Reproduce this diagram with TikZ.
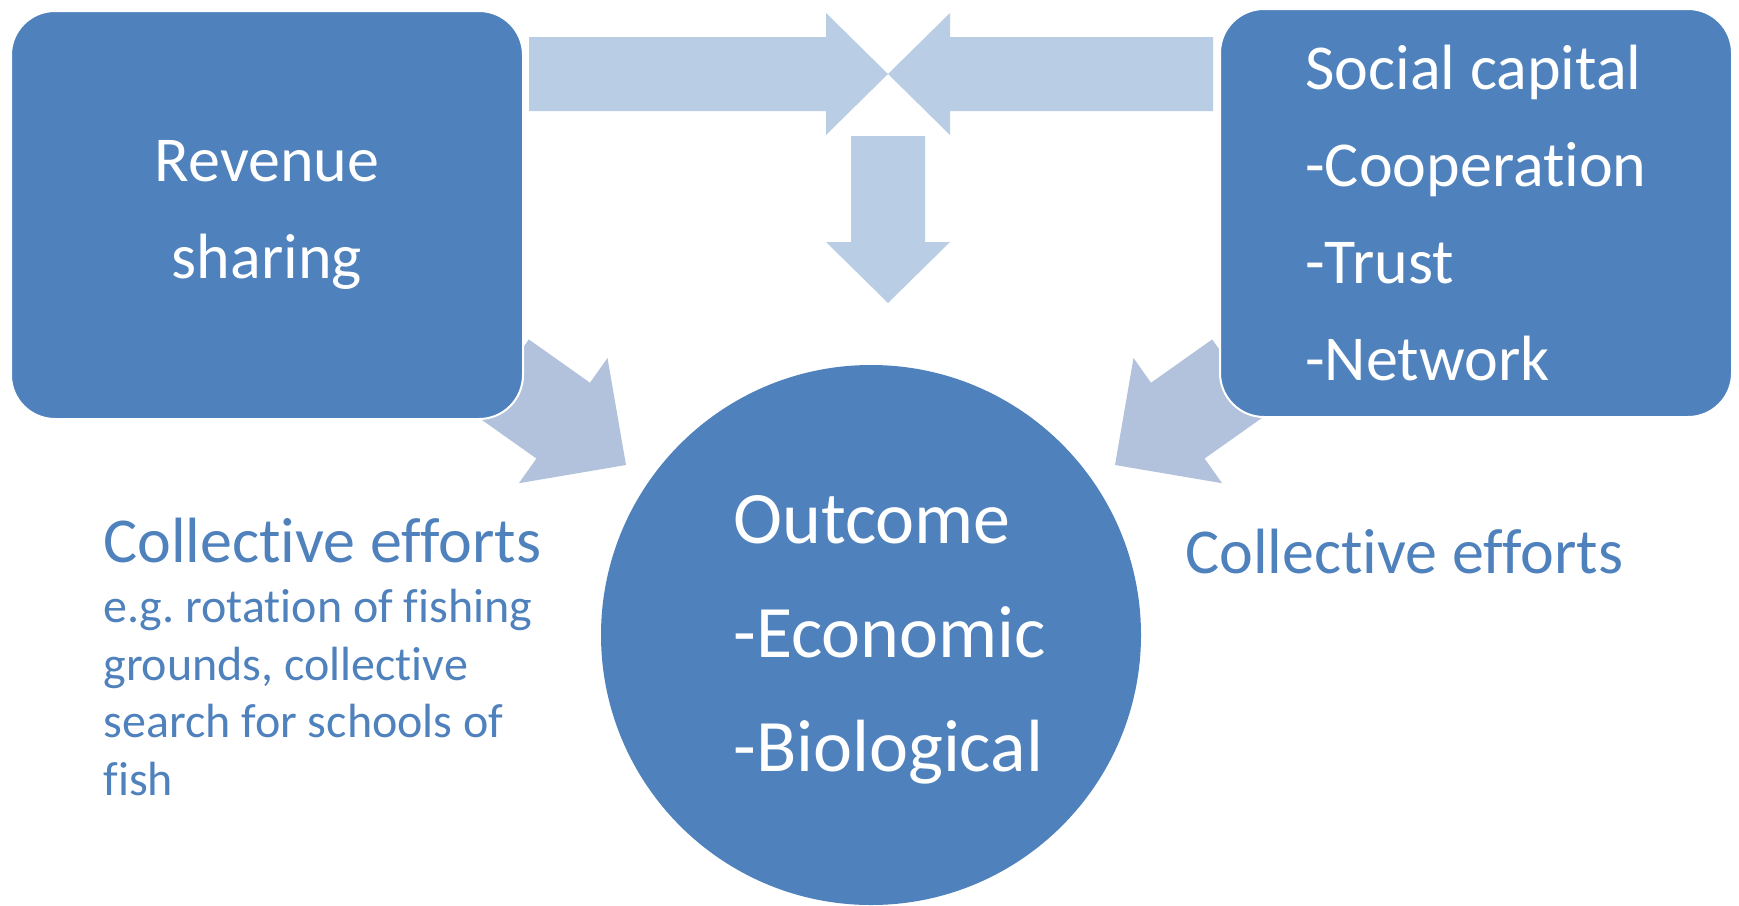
\documentclass[tikz,border=0pt]{standalone}
\usepackage{fontspec}
\setmainfont{Carlito}[Ligatures=CommonOff]
\usepackage{tikz}
\usetikzlibrary{positioning}

\definecolor{boxblue}{RGB}{79,129,189}
\definecolor{lightarrow}{RGB}{185,205,229}
\definecolor{greyarrow}{RGB}{178,194,220}

\tikzset{
  box/.style={rectangle, rounded corners=22pt, fill=boxblue, draw=white, line width=1pt,
    minimum width=256pt, minimum height=204pt, text=white, font=\fontsize{32}{48.5}\selectfont},
  hub/.style={circle, fill=boxblue, minimum size=270pt, inner sep=0pt},
  hubtext/.style={text=white, align=left, inner sep=0pt, font=\fontsize{37}{57}\selectfont},
  effort/.style={text=boxblue, inner sep=0pt, font=\fontsize{32}{38}\selectfont},
  effortnote/.style={text=boxblue, align=left, inner sep=0pt, font=\fontsize{24}{28.75}\selectfont},
}

\begin{document}
\frenchspacing
\begin{tikzpicture}[x=0.5pt,y=-0.5pt]
			\useasboundingbox (0,0) rectangle (1739,905);
			
			% arrows between the boxes
			\fill[lightarrow] (529,37) -- (826,37) -- (826,13) -- (888,74) -- (826,135) -- (826,111) -- (529,111) -- cycle;
			\fill[lightarrow] (1213,37) -- (950,37) -- (950,13) -- (888,74) -- (950,135) -- (950,111) -- (1213,111) -- cycle;
			\fill[lightarrow] (851,136) -- (925,136) -- (925,242) -- (950,242) -- (888,303) -- (826,242) -- (851,242) -- cycle;
			
			% arrows into the outcome
			\fill[greyarrow] (528.8,339.4) -- (590,382.7) -- (607.5,358) -- (626,465) -- (518.9,483.2) -- (536.4,458.5) -- (475.2,415.2) -- cycle;
			\fill[greyarrow] (1212.2,339.4) -- (1151,382.7) -- (1133.5,358) -- (1115,465) -- (1222.1,483.2) -- (1204.6,458.5) -- (1265.8,415.2) -- cycle;
			
			\node[box, align=center] (revenue) at (267,215) {Revenue\\sharing};
			\node[box, align=left] (social) at (1476,213) {Social capital\\-Cooperation\\-Trust\\-Network};
			
			\node[hub] (outcome) at (871,635) {};
			\node[hubtext, anchor=base west] (outcomelbl) at (733,771) {Outcome\\-Economic\\-Biological};
			
			\node[effort, anchor=base west] (effortsL) at (103,562) {Collective efforts};
			\node[effortnote, anchor=base west] (effortsLnote) at (103,795) {e.g. rotation of fishing\\grounds, collective\\search for schools of\\fish};
			\node[effort, anchor=base west] (effortsR) at (1185,573) {Collective efforts};
			
		\end{tikzpicture}
\end{document}
